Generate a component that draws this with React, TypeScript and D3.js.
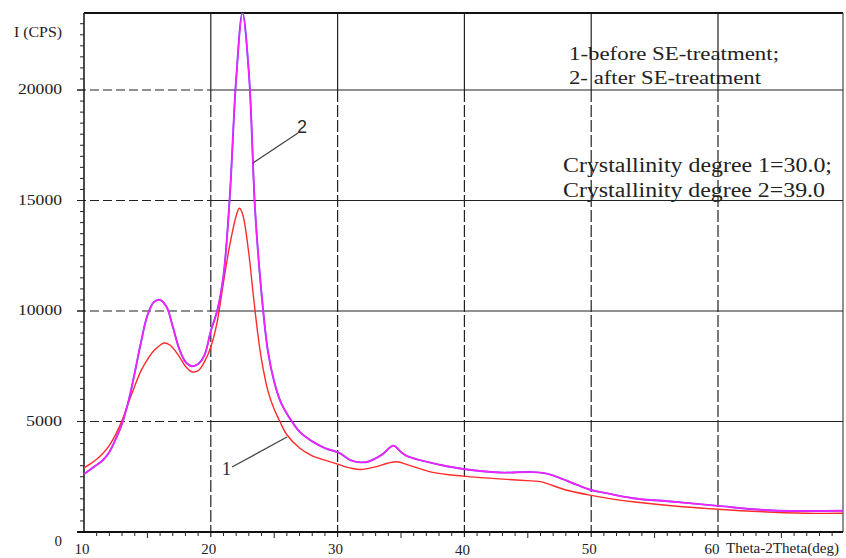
import React, { useEffect, useRef } from 'react';
import * as d3 from 'd3';

// curve 2: after SE-treatment (deg, counts)
const angles2 = [10, 10.5, 11, 11.5, 12, 12.5, 13, 13.5, 14, 14.5, 15, 15.5, 16, 16.5, 17, 17.5, 18, 18.5, 19, 19.5, 20, 20.5, 21, 21.5, 22, 22.5, 23, 23.5, 24, 24.5, 25, 25.5, 26, 26.4, 27, 28, 29, 29.9, 30.2, 31, 31.8, 32.5, 33.5, 34.4, 35, 35.5, 36.5, 38, 39.9, 42.8, 45.4, 46.5, 47.5, 48.9, 50, 51, 53.3, 56.5, 60, 64.4, 67, 70];
const counts2 = [2620, 2830, 3030, 3260, 3620, 4200, 4900, 5900, 7200, 8600, 9800, 10400, 10500, 10200, 9300, 8300, 7700, 7500, 7600, 8000, 9100, 10000, 11600, 15200, 20500, 23500, 20800, 14500, 10800, 8200, 6800, 5900, 5350, 5000, 4540, 4100, 3800, 3630, 3560, 3250, 3150, 3200, 3500, 3900, 3620, 3430, 3250, 3050, 2850, 2690, 2710, 2640, 2450, 2130, 1900, 1780, 1530, 1370, 1180, 970, 950, 960];

// curve 1: before SE-treatment
const angles1 = [10, 10.5, 11, 11.5, 12, 12.5, 13, 13.5, 14, 14.5, 15, 15.5, 16, 16.3, 16.8, 17.5, 18, 18.5, 19, 19.5, 20, 20.5, 21, 21.5, 22, 22.25, 22.5, 23, 23.3, 23.7, 24, 24.5, 25, 25.45, 26, 27, 28, 29, 30, 31, 31.8, 33, 34, 34.7, 35.5, 37.5, 39.9, 44.1, 46, 46.5, 48, 50, 53.3, 60, 67, 70];
const counts1 = [2900, 3080, 3290, 3560, 3920, 4420, 5050, 5850, 6600, 7300, 7800, 8200, 8450, 8550, 8450, 7950, 7500, 7250, 7300, 7700, 8370, 9500, 11300, 13000, 14300, 14650, 14400, 12600, 11000, 9000, 7800, 6400, 5550, 5000, 4400, 3800, 3450, 3250, 3070, 2900, 2830, 2950, 3120, 3180, 3050, 2700, 2530, 2350, 2280, 2200, 1900, 1660, 1370, 1030, 850, 850];

const xTicks = [10, 20, 30, 40, 50, 60];
const yTicks = [0, 5000, 10000, 15000, 20000];
const legendLines = ['1-before SE-treatment;', '2- after SE-treatment'];
const crystLines = ['Crystallinity degree 1=30.0;', 'Crystallinity degree 2=39.0'];

const App = () => {
    const ref = useRef(null);

    useEffect(() => {
        const root = d3.select(ref.current);
        root.selectAll('*').remove();
        const svg = root.append('svg')
            .attr('width', 846).attr('height', 558)
            .style('position', 'absolute').style('left', '0px').style('top', '0px')
            .style('background', '#fff')
            .style('font-family', '"Liberation Serif", serif');

        const left = 84, right = 843, top = 13, bottom = 532;
        const x = d3.scaleLinear().domain([10, 70]).range([left, left + 60 * 12.68]);
        const y = d3.scaleLinear().domain([0, 23485]).range([bottom, top]);
        const ink = '#222';

        // grid
        yTicks.filter(d => d > 0).forEach(d => {
            svg.append('line').attr('x1', 77).attr('x2', x(20)).attr('y1', y(d)).attr('y2', y(d))
                .attr('stroke', ink).attr('stroke-width', 1.2).attr('stroke-dasharray', '9,4');
            svg.append('line').attr('x1', x(20)).attr('x2', right).attr('y1', y(d)).attr('y2', y(d))
                .attr('stroke', ink).attr('stroke-width', 1.2);
        });
        xTicks.filter(d => d > 10).forEach(d => {
            svg.append('line').attr('x1', x(d)).attr('x2', x(d)).attr('y1', top).attr('y2', y(20000))
                .attr('stroke', ink).attr('stroke-width', 1.2);
            svg.append('line').attr('x1', x(d)).attr('x2', x(d)).attr('y1', y(20000)).attr('y2', bottom + 5)
                .attr('stroke', ink).attr('stroke-width', 1.2).attr('stroke-dasharray', '12,3');
        });

        // frame
        svg.append('line').attr('x1', left).attr('x2', right).attr('y1', top).attr('y2', top)
            .attr('stroke', '#111').attr('stroke-width', 2);
        svg.append('line').attr('x1', right).attr('x2', right).attr('y1', top).attr('y2', bottom)
            .attr('stroke', ink).attr('stroke-width', 1);
        svg.append('line').attr('x1', left).attr('x2', left).attr('y1', top).attr('y2', bottom)
            .attr('stroke', '#111').attr('stroke-width', 1.5);
        svg.append('line').attr('x1', left - 7).attr('x2', right).attr('y1', bottom).attr('y2', bottom)
            .attr('stroke', '#111').attr('stroke-width', 2);

        // minor ticks
        d3.range(500, 23500, 500).forEach(v => {
            const major = v % 5000 === 0;
            svg.append('line').attr('x1', major ? 77 : 80).attr('x2', left).attr('y1', y(v)).attr('y2', y(v))
                .attr('stroke', ink).attr('stroke-width', 1);
        });
        d3.range(11, 70, 1).forEach(v => {
            if (v % 10 === 0) return;
            svg.append('line').attr('x1', x(v)).attr('x2', x(v)).attr('y1', bottom)
                .attr('y2', bottom + (v % 5 === 0 ? 6 : 4))
                .attr('stroke', ink).attr('stroke-width', 1);
        });

        // tick labels
        yTicks.forEach(d => {
            const t = svg.append('text').attr('x', 62).attr('y', d === 0 ? 546 : y(d) + 4)
                .attr('text-anchor', 'end').style('font-size', '15px').attr('fill', '#222').text(String(d));
            if (d >= 10000) t.attr('textLength', 44).attr('lengthAdjust', 'spacingAndGlyphs');
            else if (d === 5000) t.attr('textLength', 36).attr('lengthAdjust', 'spacingAndGlyphs');
        });
        svg.append('text').attr('x', 14).attr('y', 37).style('font-size', '14px').attr('fill', '#222')
            .attr('textLength', 48).attr('lengthAdjust', 'spacingAndGlyphs').text('I (CPS)');
        xTicks.forEach(d => {
            svg.append('text').attr('x', d === 60 ? 712 : x(d) - 2).attr('y', d === 40 ? 555 : 554)
                .attr('text-anchor', 'middle').style('font-size', '15px').attr('fill', '#222').text(String(d));
        });
        svg.append('text').attr('x', 726).attr('y', 553).style('font-size', '14px').attr('fill', '#222')
            .attr('textLength', 113).attr('lengthAdjust', 'spacingAndGlyphs').text('Theta-2Theta(deg)');

        // curves
        svg.append('clipPath').attr('id', 'plotclip').append('rect')
            .attr('x', left).attr('y', top).attr('width', right - left).attr('height', bottom - top);
        const line = d3.line<[number, number]>()
            .x(d => x(d[0])).y(d => y(d[1]))
            .curve(d3.curveCatmullRom.alpha(0.5));
        const g = svg.append('g').attr('clip-path', 'url(#plotclip)');
        const pts1 = angles1.map((a, i) => [a, counts1[i]] as [number, number]);
        const pts2 = angles2.map((a, i) => [a, counts2[i]] as [number, number]);
        g.append('path').attr('d', line(pts1)).attr('fill', 'none')
            .attr('stroke', '#ff2a2a').attr('stroke-width', 1.4);
        g.append('path').attr('d', line(pts2)).attr('fill', 'none')
            .attr('stroke', '#7a3cff').attr('stroke-width', 1.9);
        g.append('path').attr('d', line(pts2)).attr('fill', 'none')
            .attr('stroke', '#ff20ff').attr('stroke-width', 1.4);

        // callouts
        svg.append('line').attr('x1', 298).attr('y1', 133).attr('x2', 253).attr('y2', 163)
            .attr('stroke', '#444').attr('stroke-width', 1.3);
        svg.append('text').attr('x', 297).attr('y', 133).style('font-size', '18px')
            .style('font-family', '"Liberation Sans", sans-serif').attr('fill', '#2a2a2a').text('2');
        svg.append('line').attr('x1', 232).attr('y1', 467).attr('x2', 287).attr('y2', 437)
            .attr('stroke', '#444').attr('stroke-width', 1.3);
        svg.append('text').attr('x', 222).attr('y', 475).style('font-size', '18px')
            .attr('fill', '#2a2a2a').text('1');

        // annotations
        legendLines.forEach((s, i) => {
            svg.append('text').attr('x', 569).attr('y', 60 + i * 24).style('font-size', '19px')
                .attr('fill', '#222').attr('textLength', i === 0 ? 210 : 192).attr('lengthAdjust', 'spacingAndGlyphs')
                .text(s);
        });
        crystLines.forEach((s, i) => {
            svg.append('text').attr('x', 563).attr('y', 172 + i * 25).style('font-size', '20px')
                .attr('fill', '#222').attr('textLength', i === 0 ? 269 : 262).attr('lengthAdjust', 'spacingAndGlyphs')
                .text(s);
        });
    }, []);

    return <div ref={ref}></div>;
};

export default App;
